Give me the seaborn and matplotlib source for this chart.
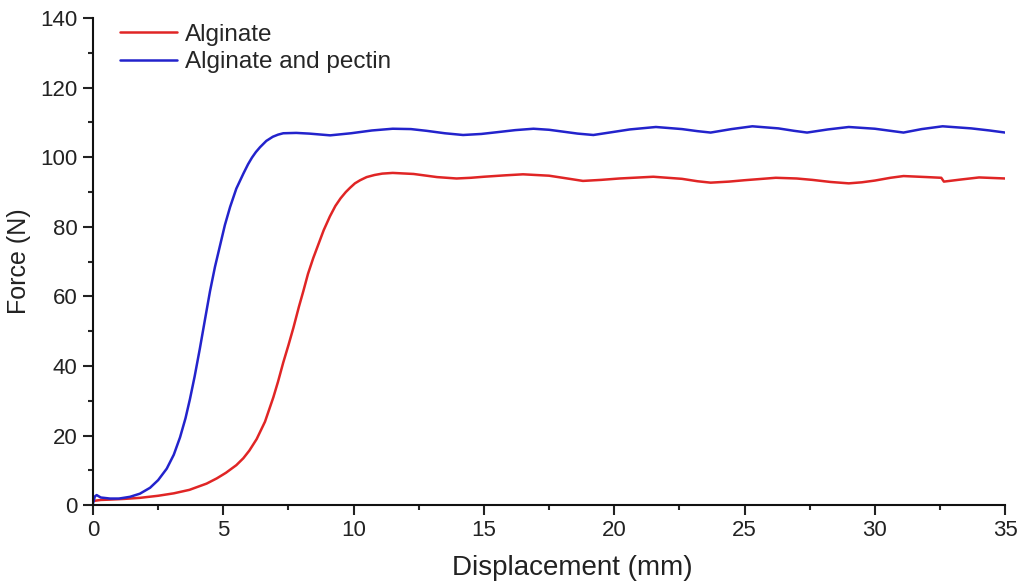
import numpy as np
import pandas as pd
import matplotlib
matplotlib.use("Agg")
import matplotlib.pyplot as plt
import seaborn as sns
from matplotlib.ticker import MultipleLocator

series_names = ["Alginate", "Alginate and pectin"]
series_colors = ["#e02525", "#2323cc"]

alg_x = [0.0, 0.3, 0.65, 1.2, 1.8, 2.5, 3.1, 3.7, 4.36, 4.75, 5.1, 5.5, 5.77, 6.0,
         6.28, 6.6, 6.92, 7.1, 7.3, 7.5, 7.69, 7.9, 8.07, 8.25, 8.45, 8.65, 8.85,
         9.09, 9.3, 9.5, 9.7, 9.86, 10.05, 10.25, 10.5, 10.8, 11.1, 11.5,
         12.3, 13.2, 13.95, 14.5, 15.0, 15.8, 16.5, 17.5, 18.2, 18.8, 19.5, 20.2,
         21.5, 22.6, 23.2, 23.7, 24.4, 25.0, 26.2, 27.0, 27.6, 28.3, 29.0, 29.5,
         30.0, 30.6, 31.1, 32.0, 32.55, 32.65, 33.3, 34.0, 35.0]
alg_y = [1.2, 1.5, 1.6, 1.8, 2.1, 2.7, 3.4, 4.4, 6.2, 7.7, 9.3, 11.5, 13.5, 15.7,
         19.0, 24.0, 31.0, 35.5, 41.0, 46.0, 51.0, 57.0, 61.5, 66.5, 71.0, 75.0, 79.0,
         83.0, 86.0, 88.2, 90.0, 91.2, 92.5, 93.4, 94.3, 94.9, 95.3, 95.5,
         95.2, 94.3, 93.9, 94.1, 94.4, 94.8, 95.1, 94.7, 93.9, 93.2, 93.5, 93.9,
         94.4, 93.8, 93.1, 92.7, 93.0, 93.4, 94.1, 93.9, 93.5, 92.9, 92.5, 92.8,
         93.3, 94.1, 94.6, 94.3, 94.1, 93.0, 93.6, 94.2, 93.9]

pec_x = [0.0, 0.07, 0.14, 0.3, 0.65, 1.0, 1.42, 1.8, 2.19, 2.5, 2.83, 3.1, 3.34,
         3.55, 3.72, 3.9, 4.1, 4.3, 4.49, 4.68, 4.87, 5.06, 5.26, 5.5, 5.77, 5.95,
         6.1, 6.25, 6.41, 6.65, 6.9, 7.1, 7.3, 7.8, 8.3, 9.1, 9.9, 10.7, 11.5, 12.2,
         12.8, 13.5, 14.2, 14.9, 15.5, 16.2, 16.9, 17.5, 18.0, 18.6, 19.2, 19.9,
         20.6, 21.6, 22.6, 23.2, 23.7, 24.5, 25.3, 26.3, 26.9, 27.4, 28.2, 29.0,
         30.0, 30.6, 31.1, 31.8, 32.6, 33.7, 34.4, 35.0]
pec_y = [0.5, 2.5, 2.9, 2.2, 1.9, 1.9, 2.4, 3.3, 5.0, 7.2, 10.5, 14.5, 19.5,
         25.0, 30.5, 37.0, 45.0, 53.5, 61.5, 68.5, 74.5, 80.5, 85.7, 91.0, 95.3, 98.0,
         99.9, 101.5, 102.9, 104.7, 105.9, 106.5, 106.9, 107.0, 106.8, 106.3, 106.9,
         107.7, 108.2, 108.1, 107.6, 106.9, 106.4, 106.7, 107.2, 107.8, 108.2, 107.9,
         107.4, 106.8, 106.4, 107.2, 108.0, 108.7, 108.1, 107.5, 107.1, 108.1, 108.9,
         108.3, 107.6, 107.1, 108.0, 108.7, 108.2, 107.6, 107.1, 108.1, 108.9, 108.3,
         107.7, 107.1]

x_ticks = [0, 5, 10, 15, 20, 25, 30, 35]
y_ticks = [0, 20, 40, 60, 80, 100, 120, 140]

df = pd.concat([
    pd.DataFrame({"Displacement": alg_x, "Force": alg_y, "Sample": series_names[0]}),
    pd.DataFrame({"Displacement": pec_x, "Force": pec_y, "Sample": series_names[1]}),
], ignore_index=True)

sns.set_style("ticks")
plt.rcParams["font.family"] = ["Liberation Sans", "DejaVu Sans"]

fig = plt.figure(figsize=(10.22, 5.84), dpi=100)
ax = fig.add_axes([0.091, 0.135, 0.8925, 0.834])

sns.lineplot(data=df, x="Displacement", y="Force", hue="Sample",
             palette=dict(zip(series_names, series_colors)), sort=False,
             linewidth=1.8, ax=ax, estimator=None)

ax.set_xlim(0, 35)
ax.set_ylim(0, 140)
ax.set_xticks(x_ticks)
ax.set_yticks(y_ticks)
ax.xaxis.set_minor_locator(MultipleLocator(2.5))
ax.yaxis.set_minor_locator(MultipleLocator(10))
ax.tick_params(which="major", direction="out", length=7, width=1.5,
               labelsize=16, colors="#222222", pad=4)
ax.tick_params(which="minor", direction="out", length=3.8, width=1.5)
for side in ["top", "right"]:
    ax.spines[side].set_visible(False)
for side in ["left", "bottom"]:
    ax.spines[side].set_linewidth(1.5)
    ax.spines[side].set_color("#111111")

ax.set_xlabel("Displacement (mm)", fontsize=20, color="#222222", labelpad=10, x=0.525)
ax.set_ylabel("Force (N)", fontsize=18, color="#222222", labelpad=7)

leg = ax.legend(loc="upper left", frameon=False, fontsize=17.5, handlelength=2.35,
                handletextpad=0.35, labelspacing=0.22, borderaxespad=0.0,
                bbox_to_anchor=(0.0185, 1.008))
for line in leg.get_lines():
    line.set_linewidth(1.8)

fig.savefig("out.png", dpi=100)
